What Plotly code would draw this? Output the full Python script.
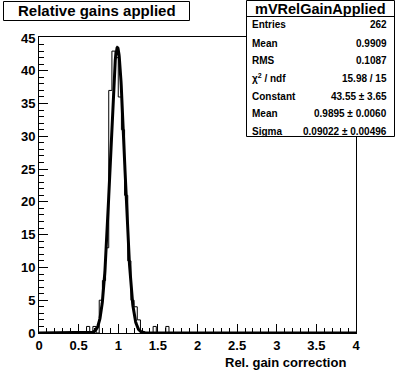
import numpy as np
import plotly.graph_objects as go

# ---- data ----
bin_low = 0.0
bin_high = 4.0
n_bins = 100
hist_bin_centers = [0.62, 0.70, 0.78, 0.82, 0.86, 0.90, 0.94, 0.98, 1.02, 1.06,
                    1.10, 1.14, 1.18, 1.22, 1.26, 1.46, 1.62]
hist_counts = [1, 1, 5, 8, 13, 37, 43, 42, 36, 31,
               21, 11, 5, 4, 2, 1, 1]

fit_constant = 43.55
fit_mean = 0.9895
fit_sigma = 0.09022

stats_title = "mVRelGainApplied"
stats_labels = ["Entries", "Mean", "RMS", "χ<sup>2</sup> / ndf", "Constant", "Mean", "Sigma"]
stats_values = ["262", "0.9909", "0.1087", "15.98 / 15", "43.55 ± 3.65",
                "0.9895 ± 0.0060", "0.09022 ± 0.00496"]
x_ticks = [0, 0.5, 1, 1.5, 2, 2.5, 3, 3.5, 4]
x_tick_labels = ["0", "0.5", "1", "1.5", "2", "2.5", "3", "3.5", "4"]
y_ticks = [0, 5, 10, 15, 20, 25, 30, 35, 40, 45]
y_tick_labels = ["0", "5", "10", "15", "20", "25", "30", "35", "40", "45"]
y_max = 45.15

# ---- build histogram step outline ----
width = (bin_high - bin_low) / n_bins
edges = np.linspace(bin_low, bin_high, n_bins + 1)
counts = np.zeros(n_bins)
for c, v in zip(hist_bin_centers, hist_counts):
    counts[int(round((c - bin_low - width / 2) / width))] = v
step_y = np.append(counts, counts[-1])

fx = np.linspace(bin_low, bin_high, 1601)
fy = fit_constant * np.exp(-0.5 * ((fx - fit_mean) / fit_sigma) ** 2)

W, H = 396, 372
L, R, T, B = 39, 356, 37, 333
FONT = "Liberation Sans"


def px(xp):
    return (xp - L) / (R - L)


def py(yp):
    return (B - yp) / (B - T)


fig = go.Figure()
fig.add_trace(go.Scatter(x=edges, y=step_y, mode="lines", line=dict(color="black", width=1, shape="hv"),
                         hoverinfo="skip", showlegend=False))
fig.add_trace(go.Scatter(x=fx, y=fy, mode="lines", line=dict(color="black", width=3),
                         hoverinfo="skip", showlegend=False))

axis_font = dict(family=FONT, size=13, color="black", weight="bold")
fig.update_xaxes(range=[bin_low, bin_high], showgrid=False, zeroline=False,
                 showline=True, linecolor="black", linewidth=1, mirror=True,
                 ticks="inside", ticklen=9, tickcolor="black", tickwidth=1,
                 tickvals=x_ticks, ticktext=x_tick_labels, tickfont=axis_font,
                 minor=dict(ticks="inside", ticklen=5, dtick=0.1, tick0=0, tickcolor="black", showgrid=False))
fig.update_yaxes(range=[0, y_max], showgrid=False, zeroline=False,
                 showline=True, linecolor="black", linewidth=1, mirror=True,
                 ticks="inside", ticklen=9, tickcolor="black", tickwidth=1,
                 tickvals=y_ticks, ticktext=y_tick_labels, tickfont=axis_font,
                 minor=dict(ticks="inside", ticklen=5, dtick=1, tick0=0, tickcolor="black", showgrid=False))

shapes = []
annotations = []
# title box
shapes.append(dict(type="rect", xref="paper", yref="paper", x0=px(3.5), x1=px(189.5), y0=py(20.5), y1=py(1.5),
                   line=dict(color="black", width=1), fillcolor="white", layer="above"))
annotations.append(dict(xref="paper", yref="paper", x=px(96.5), y=py(11), xanchor="center", yanchor="middle",
                        text="Relative gains applied", showarrow=False,
                        font=dict(family=FONT, size=15, color="black", weight="bold")))
# stats box
shapes.append(dict(type="rect", xref="paper", yref="paper", x0=px(246.5), x1=px(394.5), y0=py(136.5), y1=py(0.5),
                   line=dict(color="black", width=1), fillcolor="white", layer="above"))
shapes.append(dict(type="line", xref="paper", yref="paper", x0=px(246.5), x1=px(394.5), y0=py(16.5), y1=py(16.5),
                   line=dict(color="black", width=1), layer="above"))
annotations.append(dict(xref="paper", yref="paper", x=px(320.5), y=py(8.5), xanchor="center", yanchor="middle",
                        text=stats_title, showarrow=False,
                        font=dict(family=FONT, size=14.5, color="black", weight="bold")))
row_y = [25, 43, 61, 78, 96, 113.5, 131]
for lab, val, yy in zip(stats_labels, stats_values, row_y):
    annotations.append(dict(xref="paper", yref="paper", x=px(250), y=py(yy), xanchor="left", yanchor="middle",
                            text=lab, showarrow=False,
                            font=dict(family=FONT, size=10, color="black", weight="bold")))
    annotations.append(dict(xref="paper", yref="paper", x=px(389), y=py(yy), xanchor="right", yanchor="middle",
                            text=val, showarrow=False,
                            font=dict(family=FONT, size=10, color="black", weight="bold")))
# x axis title
annotations.append(dict(xref="paper", yref="paper", x=px(348), y=py(362), xanchor="right", yanchor="middle",
                        text="Rel. gain correction", showarrow=False,
                        font=dict(family=FONT, size=13, color="black", weight="bold")))

fig.update_layout(width=W, height=H, autosize=False,
                  margin=dict(l=L, r=W - R, t=T, b=H - B, pad=0),
                  paper_bgcolor="white", plot_bgcolor="white",
                  shapes=shapes, annotations=annotations, showlegend=False)

fig.write_html("out.html", config={"displayModeBar": False},
               post_script="document.body.style.margin='0px';document.body.style.padding='0px';")
